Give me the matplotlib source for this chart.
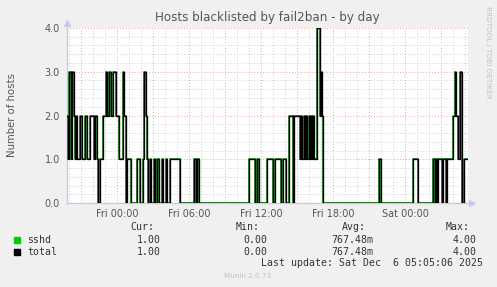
import numpy as np
import matplotlib
matplotlib.use("Agg")
import matplotlib.pyplot as plt

# hours relative to Fri 00:00, value from that time on (step data)
hours = [-4.17, -4.08, -4.0, -3.83, -3.75, -3.58, -3.5, -3.42, -3.33, -3.08,
         -2.92, -2.67, -2.5, -2.25, -1.92, -1.83, -1.67, -1.58, -1.42, -1.17,
         -0.92, -0.83, -0.67, -0.5, -0.33, -0.08, 0.17, 0.5, 0.58, 0.75,
         0.83, 1.17, 1.67, 1.92, 2.17, 2.25, 2.42, 2.5, 2.58, 2.75,
         2.83, 3.08, 3.17, 3.33, 3.5, 3.75, 3.83, 4.08, 4.17, 4.42,
         4.5, 5.25, 6.42, 6.58, 6.67, 6.83, 11.0, 11.5, 11.67, 11.83,
         12.42, 12.5, 13.0, 13.08, 13.17, 13.67, 13.75, 13.83, 14.08, 14.25,
         14.33, 14.67, 14.75, 15.25, 15.33, 15.42, 15.58, 15.67, 15.75, 15.83,
         16.0, 16.08, 16.17, 16.25, 16.33, 16.42, 16.5, 16.67, 16.92, 17.0,
         17.08, 17.17, 21.83, 22.0, 24.67, 25.08, 26.33, 26.5, 26.58, 26.67,
         26.75, 27.08, 27.17, 27.42, 27.5, 28.0, 28.17, 28.25, 28.42, 28.58,
         28.67, 28.75, 28.92, 29.25]
sshd = [2, 1, 3, 1, 3, 2, 1, 2, 1, 2,
        1, 2, 1, 2, 1, 2, 1, 0, 1, 2,
        3, 2, 3, 2, 3, 2, 1, 3, 2, 0,
        1, 0, 1, 0, 1, 3, 2, 1, 0, 1,
        0, 1, 0, 1, 0, 1, 0, 1, 0, 1,
        1, 0, 1, 0, 1, 0, 1, 0, 1, 0,
        0, 1, 0, 0, 1, 0, 0, 1, 0, 0,
        2, 0, 2, 1, 2, 1, 2, 1, 2, 1,
        2, 1, 2, 1, 2, 1, 1, 4, 2, 3,
        2, 0, 1, 0, 1, 0, 1, 0, 1, 0,
        1, 0, 1, 0, 1, 2, 3, 2, 1, 3,
        3, 0, 1, 1]
total = sshd

x_ticks = [0, 6, 12, 18, 24]
x_labels = ["Fri 00:00", "Fri 06:00", "Fri 12:00", "Fri 18:00", "Sat 00:00"]
y_ticks = [0, 1, 2, 3, 4]

legend_names = ["sshd", "total"]
legend_colors = ["#00CC00", "#000000"]
cur = ["1.00", "1.00"]
vmin = ["0.00", "0.00"]
avg = ["767.48m", "767.48m"]
vmax = ["4.00", "4.00"]

W, H = 497, 287
fig = plt.figure(figsize=(W / 100, H / 100), dpi=100, facecolor="#F0F0F0")
ax = fig.add_axes([67 / W, 1 - 203 / H, 401 / W, 175 / H], facecolor="white")

ax.set_xlim(-4.17, 29.25)
ax.set_ylim(0, 4)

# grid like rrdtool: minor grey, major pinkish red
for h in np.arange(-4, 30, 1):
    col = "#E9A5A5" if h % 3 == 0 else "#D0D0D0"
    ax.axvline(h, color=col, lw=0.7, ls=(0, (1, 2)), zorder=1)
for v in np.arange(0.2, 4.01, 0.2):
    major = abs(v - round(v)) < 1e-6
    ax.axhline(v, color="#E9A5A5" if major else "#D0D0D0", lw=0.7,
               ls=(0, (1, 2)), zorder=1)

ax.step(hours, sshd, where="post", color="#1F7A1F", lw=1.25, zorder=3)
ax.step(hours, total, where="post", color=legend_colors[1], lw=0.95, zorder=4)

for s in ["top", "right"]:
    ax.spines[s].set_visible(False)
for s in ["left", "bottom"]:
    ax.spines[s].set_color("#C8C8E8")
    ax.spines[s].set_linewidth(1.0)
ax.plot(0, 1.03, marker="^", color="#C8C8F0", ms=4, transform=ax.transAxes,
        clip_on=False)
ax.plot(1.01, 0, marker=">", color="#C8C8F0", ms=4, transform=ax.transAxes,
        clip_on=False)

ax.set_xticks(x_ticks, x_labels)
ax.set_yticks(y_ticks, [f"{t:.1f}" for t in y_ticks])
ax.tick_params(axis="both", length=0, labelsize=7, colors="#555555", pad=4)
ax.tick_params(axis="y", pad=5)

fig.text(267.5 / W, 1 - 18 / H, "Hosts blacklisted by fail2ban - by day",
         ha="center", va="center", fontsize=8.6, color="#555555")
fig.text(12 / W, 1 - 115 / H, "Number of hosts", rotation=90,
         ha="center", va="center", fontsize=7.3, color="#555555")
fig.text(488 / W, 1 - 52 / H, "RRDTOOL / TOBI OETIKER", rotation=270,
         ha="center", va="center", fontsize=5.2, color="#C0C0C0")

mono = dict(family="DejaVu Sans Mono", fontsize=7.1, color="#333333", va="center")
cols = [(154, "Cur:", cur), (260, "Min:", vmin), (366, "Avg:", avg), (470, "Max:", vmax)]
for xr, head, vals in cols:
    fig.text(xr / W, 1 - 227 / H, head, ha="right", **mono)
    for i, v in enumerate(vals):
        fig.text((xr + 7) / W, 1 - (240 + 12 * i) / H, v, ha="right", **mono)
for i, (name, c) in enumerate(zip(legend_names, legend_colors)):
    y = 240 + 12 * i
    fig.patches.append(plt.Rectangle((14 / W, 1 - (y + 3) / H), 6 / W, 6 / H,
                                     color=c, transform=fig.transFigure))
    fig.text(27 / W, 1 - y / H, name, ha="left", **mono)
fig.text(483 / W, 1 - 263 / H, "Last update: Sat Dec  6 05:05:06 2025",
         ha="right", **mono)
fig.text(248 / W, 1 - 276 / H, "Munin 2.0.73", ha="center", va="center",
         fontsize=5.2, color="#C0C0C0")

fig.savefig("out.png", dpi=100, facecolor=fig.get_facecolor())
